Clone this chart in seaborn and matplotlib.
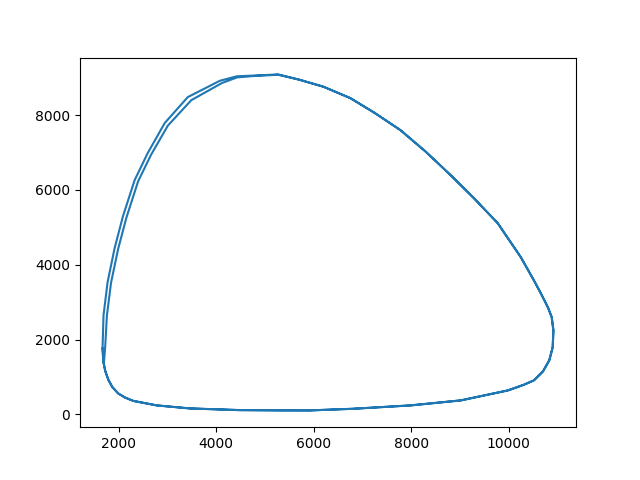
# Trajectoire proie / prédateur (cycle limite)
import numpy as np
import matplotlib
matplotlib.use('Agg')
import matplotlib.pyplot as plt
import seaborn as sns

# premier tour
prey_1 = [1671, 1690, 1730, 1790, 1870, 1990, 2130, 2300, 2781, 3460, 4488, 5300, 5928,
          6800, 7985, 9014, 9980, 10300, 10514, 10700, 10830, 10900, 10915, 10880, 10802,
          10660, 10514, 10247, 9774, 9300, 8808, 8300, 7779, 7250, 6751,
          6200, 5700, 5270, 4800, 4427, 4077, 3419, 2946, 2596, 2329, 2090, 1918,
          1774, 1691, 1671]
predator_1 = [1766, 1400, 1150, 920, 730, 560, 450, 360, 241, 160, 115, 108, 107,
              150, 241, 375, 642, 790, 910, 1150, 1450, 1793, 2248, 2600, 2863,
              3230, 3586, 4201, 5111, 5760, 6396, 7020, 7600, 8060, 8456,
              8760, 8950, 9090, 9060, 9040, 8920, 8483, 7790, 6984, 6262, 5300, 4442,
              3532, 2649, 1766]

# second tour, légèrement décalé vers l'intérieur en haut à gauche
prey_2 = [1685, 1725, 1792, 1872, 1992, 2133, 2303, 2785, 3465, 4490, 5300, 5930,
          6800, 7990, 9020, 9985, 10310, 10520, 10705, 10835, 10903, 10917, 10882, 10805,
          10662, 10516, 10250, 9776, 9302, 8810, 8302, 7780, 7252, 6752,
          6202, 5702, 5272, 4800, 4430, 4120, 3490, 3010, 2665, 2400, 2160, 1990,
          1845, 1760, 1725, 1700]
predator_2 = [1420, 1160, 925, 735, 562, 452, 362, 240, 159, 114, 108, 107,
              150, 240, 374, 640, 790, 910, 1150, 1450, 1800, 2250, 2600, 2860,
              3230, 3586, 4200, 5110, 5760, 6396, 7020, 7600, 8060, 8456,
              8760, 8950, 9080, 9050, 9010, 8860, 8400, 7720, 6940, 6230, 5260, 4420,
              3520, 2640, 1800, 1400]

prey = prey_1 + prey_2
predator = predator_1 + predator_2

fig, ax = plt.subplots(figsize=(6.4, 4.8), dpi=100)
sns.lineplot(x=prey, y=predator, sort=False, estimator=None, ax=ax,
             color='#1f77b4', linewidth=1.5)

plt.savefig('out.png', dpi=100)
